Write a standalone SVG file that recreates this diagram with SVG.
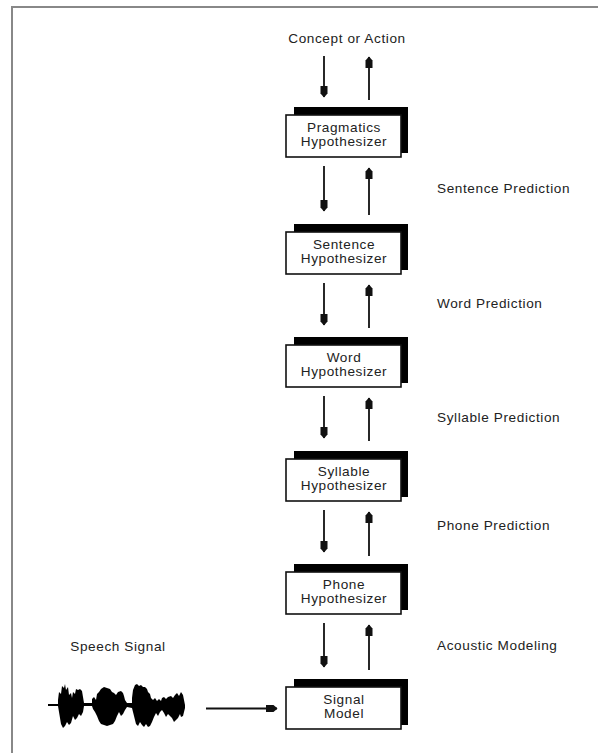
<svg xmlns="http://www.w3.org/2000/svg" width="598" height="753" viewBox="0 0 598 753">
  <style>
    .txt { font-family: "Liberation Sans", Arial, sans-serif; font-size: 13.6px; letter-spacing: 0.6px; fill: #222; }
    .mid { text-anchor: middle; }
    .shadow { fill: #000; }
    .face { fill: #fff; stroke: #111; stroke-width: 1.6; }
    .arrow { stroke: #111; stroke-width: 1.8; fill: none; marker-end: url(#head); }
    .frame { stroke: #888; stroke-width: 2; fill: none; }
  </style>
  <defs>
    <marker id="head" markerUnits="userSpaceOnUse" markerWidth="14" markerHeight="10" refX="0" refY="0" orient="auto" overflow="visible">
      <path d="M-11,-3.5 L-3.5,-3.5 L0.5,0 L-3.5,3.5 L-11,3.5 Z" fill="#111"/>
    </marker>
  </defs>

  <rect width="598" height="753" fill="#fff"/>
  <!-- page frame (top and left edges) -->
  <path class="frame" d="M12,754 L12,7 L599,7"/>

  <!-- hypothesizer stack -->
  <g id="pragmatics" transform="translate(0,115)">
    <rect class="shadow" x="294" y="-8" width="114" height="46"/>
    <rect class="face" x="286" y="0" width="115" height="42"/>
    <text class="txt mid" x="344" y="16.5">Pragmatics</text>
    <text class="txt mid" x="344" y="30.5">Hypothesizer</text>
  </g>
  <g id="sentence" transform="translate(0,232)">
    <rect class="shadow" x="294" y="-8" width="114" height="46"/>
    <rect class="face" x="286" y="0" width="115" height="42"/>
    <text class="txt mid" x="344" y="16.5">Sentence</text>
    <text class="txt mid" x="344" y="30.5">Hypothesizer</text>
  </g>
  <g id="word" transform="translate(0,345)">
    <rect class="shadow" x="294" y="-8" width="114" height="46"/>
    <rect class="face" x="286" y="0" width="115" height="42"/>
    <text class="txt mid" x="344" y="16.5">Word</text>
    <text class="txt mid" x="344" y="30.5">Hypothesizer</text>
  </g>
  <g id="syllable" transform="translate(0,459)">
    <rect class="shadow" x="294" y="-8" width="114" height="46"/>
    <rect class="face" x="286" y="0" width="115" height="42"/>
    <text class="txt mid" x="344" y="16.5">Syllable</text>
    <text class="txt mid" x="344" y="30.5">Hypothesizer</text>
  </g>
  <g id="phone" transform="translate(0,572)">
    <rect class="shadow" x="294" y="-8" width="114" height="46"/>
    <rect class="face" x="286" y="0" width="115" height="42"/>
    <text class="txt mid" x="344" y="16.5">Phone</text>
    <text class="txt mid" x="344" y="30.5">Hypothesizer</text>
  </g>
  <g id="signal-model" transform="translate(0,687)">
    <rect class="shadow" x="294" y="-8" width="114" height="46"/>
    <rect class="face" x="286" y="0" width="115" height="42"/>
    <text class="txt mid" x="344" y="16.5">Signal</text>
    <text class="txt mid" x="344" y="30.5">Model</text>
  </g>

  <!-- speech waveform -->
  <g id="speech-signal">
    <text class="txt mid" x="118" y="651">Speech Signal</text>
    <path fill="#000" d="M48,704 L58,704 L58,700 L59,692 L61,694 L62,686 L64,688 L65,684 L66,690 L68,687 L69,695 L71,693 L72,698 L73,692 L75,694 L76,689 L78,690 L80,689 L82,691 L83,697 L84,703 L92,703 L92,699 L94,697 L96,700 L97,694 L99,692 L101,689 L104,687 L107,688 L110,689 L112,692 L114,693 L116,695 L118,692 L121,691 L123,693 L124,696 L125,700 L127,703 L132,703 L132,698 L133,690 L135,685 L137,684 L139,686 L141,685 L143,687 L145,687 L147,689 L148,692 L150,694 L151,698 L153,700 L155,698 L157,701 L159,699 L161,701 L162,698 L164,697 L166,699 L168,697 L171,696 L173,698 L175,695 L177,693 L179,696 L181,692 L183,695 L184,700 L185,705 L185,708 L184,712 L183,716 L181,717 L180,714 L178,718 L176,720 L174,722 L172,718 L170,716 L168,714 L166,717 L164,713 L162,710 L160,712 L158,716 L156,713 L154,717 L152,722 L150,726 L148,727 L146,724 L144,727 L142,725 L140,722 L138,726 L136,724 L134,716 L132,708 L127,707 L125,710 L123,714 L121,716 L119,712 L117,716 L115,721 L113,724 L110,725 L107,726 L104,725 L101,724 L99,721 L97,716 L95,712 L93,709 L92,706 L84,706 L83,712 L81,716 L79,714 L77,718 L75,720 L73,716 L71,723 L69,725 L67,722 L65,726 L63,728 L61,724 L60,718 L59,712 L58,706 L48,706 Z"/>
  </g>

  <!-- labels -->
  <g id="labels">
    <text class="txt mid" x="347" y="43">Concept or Action</text>
    <text class="txt" x="437" y="193">Sentence Prediction</text>
    <text class="txt" x="437" y="308">Word Prediction</text>
    <text class="txt" x="437" y="422">Syllable Prediction</text>
    <text class="txt" x="437" y="530">Phone Prediction</text>
    <text class="txt" x="437" y="650">Acoustic Modeling</text>
  </g>

  <!-- connectors: downward hypotheses, upward predictions -->
  <g id="connectors">
    <path class="arrow" d="M324,56 L324,97"/>
    <path class="arrow" d="M369,100 L369,57"/>

    <path class="arrow" d="M324,166 L324,211"/>
    <path class="arrow" d="M369,215 L369,168"/>

    <path class="arrow" d="M324,283 L324,325"/>
    <path class="arrow" d="M369,328 L369,285"/>

    <path class="arrow" d="M324,396 L324,438"/>
    <path class="arrow" d="M369,441 L369,398"/>

    <path class="arrow" d="M324,510 L324,552"/>
    <path class="arrow" d="M369,556 L369,512"/>

    <path class="arrow" d="M324,623 L324,667"/>
    <path class="arrow" d="M369,670 L369,625"/>

    <path class="arrow" d="M206,708.5 L277,708.5"/>
  </g>
</svg>
